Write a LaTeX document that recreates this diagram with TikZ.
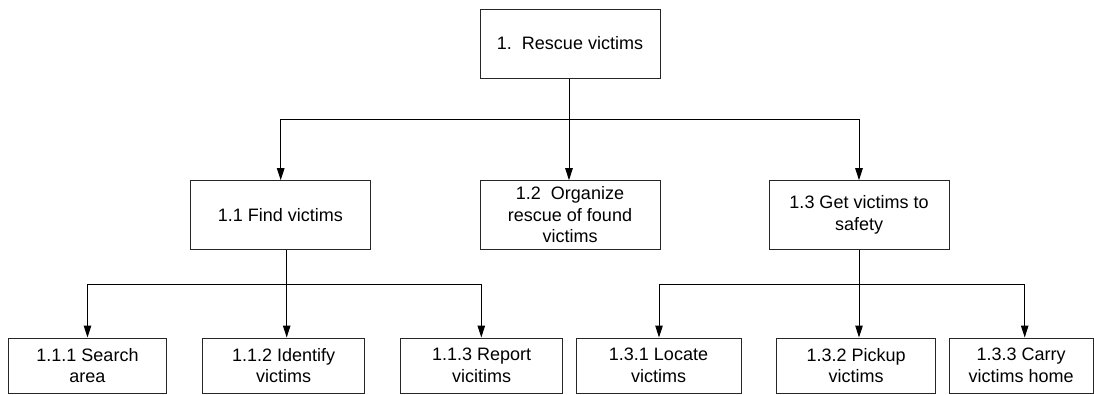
\documentclass[tikz,border=0pt]{standalone}
\usepackage{fontspec}
\setmainfont{Liberation Sans}
\usetikzlibrary{arrows.meta}
\begin{document}
\begin{tikzpicture}[x=1pt,y=-1pt,
  box/.style={draw=black!85, line width=1pt, rectangle, inner sep=0pt, align=center,
    font=\fontsize{18}{21.5}\selectfont},
  conn/.style={line width=1pt, draw=black},
  arr/.style={conn, -{Triangle[length=12pt,width=7.5pt]}}]
\useasboundingbox (0,0) rectangle (1094,394);
% level 1
\node[box, minimum width=180pt, minimum height=69pt] (r) at (570,43.5) {1.\ \ Rescue victims};
% level 2
\node[box, minimum width=179.3pt, minimum height=68.3pt] (a) at (280.35,214.85) {1.1 Find victims};
\node[box, minimum width=180pt, minimum height=68.3pt] (b) at (570,214.85) {1.2\ \ Organize\\rescue of found\\victims};
\node[box, minimum width=180pt, minimum height=68.3pt] (c) at (859,214.85) {1.3 Get victims to\\safety};
% level 3
\node[box, minimum width=158.4pt, minimum height=55pt] (a1) at (87.5,365.5) {1.1.1 Search\\area};
\node[box, minimum width=162pt, minimum height=55pt] (a2) at (283.7,365.5) {1.1.2 Identify\\victims};
\node[box, minimum width=162pt, minimum height=55pt] (a3) at (481.7,365.5) {1.1.3 Report\\vicitims};
\node[box, minimum width=165pt, minimum height=55pt] (c1) at (658.5,365.5) {1.3.1 Locate\\victims};
\node[box, minimum width=159pt, minimum height=55pt] (c2) at (856.2,365.5) {1.3.2 Pickup\\victims};
\node[box, minimum width=143.7pt, minimum height=55pt] (c3) at (1021.2,365.5) {1.3.3 Carry\\victims home};
% bus coordinates
\coordinate (j0) at (569,119);
\coordinate (ja) at (280.7,119);
\coordinate (jc) at (859,119);
\coordinate (ka) at (286.7,284);
\coordinate (k1) at (87.5,284);
\coordinate (k3) at (481.3,284);
\coordinate (mc) at (859,284);
\coordinate (m1) at (659,284);
\coordinate (m3) at (1024.7,284);
% connectors level 1 -> 2
\draw[arr] (r.south -| j0) -- (j0 |- b.north);
\draw[arr] (j0) -- (ja) -- (ja |- a.north);
\draw[arr] (j0) -- (jc) -- (jc |- c.north);
% connectors 1.1 -> children
\draw[arr] (a.south -| ka) -- (ka |- a2.north);
\draw[arr] (ka) -- (k1) -- (k1 |- a1.north);
\draw[arr] (ka) -- (k3) -- (k3 |- a3.north);
% connectors 1.3 -> children
\draw[arr] (c.south -| mc) -- (mc |- c2.north);
\draw[arr] (mc) -- (m1) -- (m1 |- c1.north);
\draw[arr] (mc) -- (m3) -- (m3 |- c3.north);
\end{tikzpicture}
\end{document}
